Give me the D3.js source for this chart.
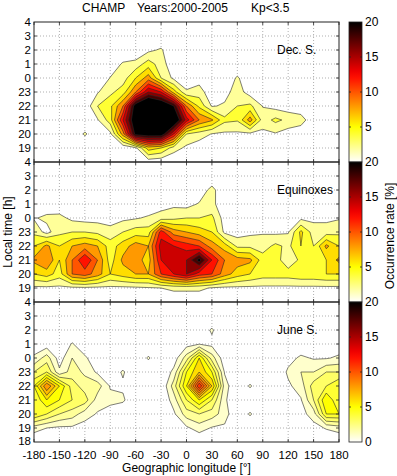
<!DOCTYPE html>
<meta charset="utf-8">
<style>
    body { margin: 0; background: #fff; }
    svg text { font-family: "Liberation Sans", Arial, sans-serif; fill: #000; }
    .grid line { stroke: #7a7a7a; stroke-width: 0.6; stroke-dasharray: 1,2; }
    .band { stroke: #262626; stroke-width: 0.6; stroke-linejoin: round; }
    .frame { fill: none; stroke: #222; stroke-width: 1; }
    .tick { stroke: #222; stroke-width: 0.8; }
</style>
<svg width="397" height="476"></svg>
<script src="https://cdn.jsdelivr.net/npm/d3@7"></script>
<script>

    // grid: longitude every 15 deg, local time every hour (18 .. 4 next day)
    const longitudes = d3.range(-180, 181, 15);
    const localTimes = [18, 19, 20, 21, 22, 23, 0, 1, 2, 3, 4];
    const levelsDec = [2, 4, 6, 8, 10, 12, 14, 16, 18, 20];
    const levelsEqu = [2, 4, 6, 8, 10, 12, 14, 16, 18, 20];
    const levelsJune = [1, 2, 3, 4, 5, 6, 7, 8, 9, 10, 11, 12, 13, 14, 15];
    const xTicks = d3.range(-180, 181, 30);
    const cbTicks = [0, 5, 10, 15, 20];
    const panelNames = ["Dec. S.", "Equinoxes", "June S."];

    // occurrence rate [%], one row per local time, columns = longitudes
    const decS = [
        [0,0,0,0,0,0,0,0,0.5,0.8,0.5,0,0,0,0,0,0,0,0,0,0,0,0,0,0],
        [0,0,0,0,0,0,0,0.3,1.5,7,6,3,1.5,0.8,0.5,0,0,0,0,0,0,0,0,0,0],
        [0,0,0,0,2.3,0.5,1.5,9,21,22,22,14,4,3,1.9,1.6,1.6,1.5,1.5,1.8,1,0,0,0,0],
        [0,0,0,0,0.3,1.8,5,14,23,28,26,24,15,10,8.3,4.5,4.2,9,3,4.5,3.5,3.3,0,0,0],
        [0,0,0,0,0.5,4,5.5,10,22,26,24,20,10,5.5,1.8,2.3,4,4.5,1.9,1.2,0.8,0,0,0,0],
        [0,0,0,0,0,1.8,3.5,5,10,16,14,7,2.3,3,0.5,1.2,3,1,0,0,0,0,0,0,0],
        [0,0,0,0,0,0,2.1,3,6,9,4,1.5,0.5,1,0.3,0.3,2.3,0.3,0,0,0,0,0,0,0],
        [0,0,0,0,0,0,0.5,2.3,2.8,5,3,0.5,0,0,0,0,0,0,0,0,0,0,0,0,0],
        [0,0,0,0,0,0,0,0,0,1.5,2.3,0,0,0,0,0,0,0,0,0,0,0,0,0,0],
        [0,0,0,0,0,0,0,0,0,0,0,0,0,0,0,0,0,0,0,0,0,0,0,0,0],
        [0,0,0,0,0,0,0,0,0,0,0,0,0,0,0,0,0,0,0,0,0,0,0,0,0]
    ];

    const equinox = [
        [0.3,0.3,0.3,0.3,0.3,0.3,0.3,0.3,0.3,0.3,0.3,0.3,0.3,0.3,0.3,0.3,0.3,0.3,0.3,0.3,0.3,0.3,0.3,0.3,0.3],
        [1.5,1.5,1.5,1.5,1.6,1.5,1.5,1.5,1.6,1.8,2,2.5,2.5,2.5,1.8,1.5,1.5,1.5,1.5,1.5,1.5,1.5,1.5,1.5,1.5],
        [6,7,5,10,11,9,6,7,8,8,12,14,16,13,12,9,7,6,5,5,5,5.5,5.5,6,6],
        [8.5,10,6,10,14,10,5,8.5,9,7,14,15,16,21,14,10,9,8.5,5,5,2.5,4.5,5,6,8.5],
        [6,8.5,6,8,9,8,5,7,9,8,15,14,13,12,9,7,3.5,3.5,3,4.5,3.5,6,4,8.5,6],
        [3.5,1.2,3.5,4,4,3.5,2.8,4,5,5,13,9,8,7,6,1.5,1,1.5,1.8,1.5,1.8,6.5,3,3,3.5],
        [1.8,2.5,2.6,1.5,1.2,1.2,1,1.5,1.8,2.3,3,3.5,4,4,4.5,1,0.5,0.5,1,1,1,1.5,1.5,1.5,1.8],
        [0,0.5,0.5,0,0,0,0,0,0,0.5,1,1.5,1.2,2.2,2.6,0.5,0,0,0,0,0,0,0,0,0],
        [0,0,0,0,0,0,0,0,0,0,0,0,0,0.5,2.8,0,0,0,0,0,0,0,0,0,0],
        [0,0,0,0,0,0,0,0,0,0,0,0,0,0,0,0,0,0,0,0,0,0,0,0,0],
        [0,0,0,0,0,0,0,0,0,0,0,0,0,0,0,0,0,0,0,0,0,0,0,0,0]
    ];

    const juneS = [
        [0,0,0,0,0,0,0,0,0,0,0,0,0,0,0,0,0,0,0,0,0,0,0,0,0],
        [1.5,1,0.8,0.8,0.5,0.3,0,0,0,0,0,0.3,0.8,1.5,0.9,0.8,0,0,0,0,0,0.3,0.6,1.1,1.5],
        [5,4,3,2.5,1.5,0.9,0.5,0,0,0,0,0.8,2.5,3,2.5,1.5,0,1.15,0,0,0.3,0.6,1.5,5,5],
        [4,6,5,4,3.5,1.5,1.3,1.2,0,0,0,1.5,4,6,4,1.2,0,0,0,0,0.6,0.9,3,6,4],
        [5,9,6,3.5,2.5,2.5,0.9,0.8,0,0,0,2.5,6,12,7,1.5,0,1.15,0,0,0.8,1.5,3.5,4,5],
        [3,4,1.2,2.5,1.8,0.8,0.3,1.15,0,0,0,1.3,5,7,5,0.9,0,0,0,0,1.2,2,2,3,3],
        [1.2,2.5,0.5,2,1.2,0.2,0,0,0,1.15,0,0.4,2.5,6,2.5,0.3,0,0,0,0,0.6,1.2,0.9,0.9,1.2],
        [0.3,0.4,0,1.1,0.2,0,0,0,0,0,0,0,0.6,0.95,0.7,0,0,0,0,0,0,0.2,0,0,0.3],
        [0,0,0,0,0,0,0,0,0,0,0,0,0,0.3,1.15,0,0,0,0,0,0,0,0,0,0],
        [0,0,0,0,0,0,0,0,0,0,0,0,0,0,0,0,0,0,0,0,0,0,0,0,0],
        [0,0,0,0,0,0,0,0,0,0,0,0,0,0,0,0,0,0,0,0,0,0,0,0,0]
    ];

    const grids = [decS, equinox, juneS];
    const panelLevels = [levelsDec, levelsEqu, levelsJune];

    var svg = d3.select("svg");

    const plotL = 34, plotR = 339, panelH = 140;
    const panelTops = [22, 162, 302];
    const cbL = 349, cbW = 13;
    const tickLen = 3;
    const tickFont = "11.5px";

    var x = d3.scaleLinear().domain([-180, 180]).range([plotL, plotR]);

    // flipped "hot" colormap: white -> yellow -> red -> black
    var color = d3.scaleLinear()
        .domain([0, 5, 12.5, 20])
        .range(["#ffffff", "#ffff00", "#ff0000", "#000000"])
        .clamp(true);

    const nx = longitudes.length, ny = localTimes.length;

    // local time axis runs 18 .. 28 (28 = 4 h next day)
    const hourLabel = function(h) { return String(h % 24); };

    var defs = svg.append("defs");

    var grad = defs.append("linearGradient")
        .attr("id", "cbgrad")
        .attr("x1", 0).attr("x2", 0).attr("y1", 1).attr("y2", 0);
    d3.range(0, 20.01, 1).forEach(function(v) {
        grad.append("stop").attr("offset", v / 20).attr("stop-color", color(v));
    });

    grids.forEach(function(grid, p) {
        const top = panelTops[p];
        var y = d3.scaleLinear().domain([18, 28]).range([top + panelH, top]);

        defs.append("clipPath").attr("id", "clip" + p)
            .append("rect")
            .attr("x", plotL).attr("y", top)
            .attr("width", plotR - plotL).attr("height", panelH);

        var g = svg.append("g");

        // dotted grid
        var grid_g = g.append("g").attr("class", "grid");
        grid_g.selectAll(".vx").data(xTicks.slice(1, -1)).enter()
            .append("line")
            .attr("x1", d => x(d)).attr("x2", d => x(d))
            .attr("y1", top).attr("y2", top + panelH);
        grid_g.selectAll(".hy").data(d3.range(19, 28)).enter()
            .append("line")
            .attr("x1", plotL).attr("x2", plotR)
            .attr("y1", d => y(d)).attr("y2", d => y(d));

        // filled contours
        var values = [];
        for (var j = 0; j < ny; j++)
            for (var i = 0; i < nx; i++) values.push(grid[j][i]);

        var contours = d3.contours().size([nx, ny]).thresholds(panelLevels[p]);

        var proj = d3.geoTransform({
            point: function(cx, cy) {
                this.stream.point(x(-180 + 15 * (cx - 0.5)), y(18 + (cy - 0.5)));
            }
        });
        var path = d3.geoPath(proj);

        g.append("g")
            .attr("clip-path", "url(#clip" + p + ")")
            .selectAll("path")
            .data(contours(values))
            .enter().append("path")
            .attr("class", "band")
            .attr("fill", d => color(d.value))
            .attr("d", path);

        // frame and ticks
        g.append("rect").attr("class", "frame")
            .attr("x", plotL).attr("y", top)
            .attr("width", plotR - plotL).attr("height", panelH);

        var ticks = g.append("g");
        xTicks.forEach(function(t) {
            ticks.append("line").attr("class", "tick")
                .attr("x1", x(t)).attr("x2", x(t)).attr("y1", top).attr("y2", top + tickLen);
            ticks.append("line").attr("class", "tick")
                .attr("x1", x(t)).attr("x2", x(t)).attr("y1", top + panelH).attr("y2", top + panelH - tickLen);
        });
        d3.range(19, 28).forEach(function(t) {
            ticks.append("line").attr("class", "tick")
                .attr("x1", plotL).attr("x2", plotL + tickLen).attr("y1", y(t)).attr("y2", y(t));
            ticks.append("line").attr("class", "tick")
                .attr("x1", plotR).attr("x2", plotR - tickLen).attr("y1", y(t)).attr("y2", y(t));
        });

        // y tick labels
        const yLabs = p === 2 ? d3.range(18, 29) : d3.range(19, 29);
        g.selectAll(".ylab").data(yLabs).enter()
            .append("text")
            .attr("x", plotL - 3)
            .attr("y", d => y(d) - (d === 18 ? 1 : 0))
            .attr("dy", "0.33em")
            .attr("text-anchor", "end")
            .style("font-size", tickFont)
            .text(hourLabel);

        // panel name
        g.append("text")
            .attr("x", 277).attr("y", top + 32)
            .style("font-size", "12px")
            .text(panelNames[p]);

        // colorbar (the 0 of the upper bars sits under the 20 of the next one)
        var cb = d3.scaleLinear().domain([0, 20]).range([top + panelH, top]);
        g.append("rect")
            .attr("x", cbL).attr("y", top)
            .attr("width", cbW).attr("height", panelH)
            .attr("fill", "url(#cbgrad)")
            .attr("stroke", "#222").attr("stroke-width", 0.8);
        cbTicks.slice(1, -1).forEach(function(t) {
            g.append("line").attr("class", "tick")
                .attr("x1", cbL).attr("x2", cbL + 2).attr("y1", cb(t)).attr("y2", cb(t));
            g.append("line").attr("class", "tick")
                .attr("x1", cbL + cbW).attr("x2", cbL + cbW - 2).attr("y1", cb(t)).attr("y2", cb(t));
        });
        const cbLabs = p === 2 ? cbTicks : cbTicks.slice(1);
        g.selectAll(".cblab").data(cbLabs).enter()
            .append("text")
            .attr("x", cbL + cbW + 3)
            .attr("y", d => cb(d))
            .attr("dy", "0.36em")
            .style("font-size", "12px")
            .text(d => d);
    });

    // x tick labels
    svg.selectAll(".xlab").data(xTicks).enter()
        .append("text")
        .attr("x", d => x(d))
        .attr("y", 458.5)
        .attr("text-anchor", "middle")
        .style("font-size", tickFont)
        .text(d => d);

    svg.append("text")
        .attr("x", (plotL + plotR) / 2).attr("y", 472)
        .attr("text-anchor", "middle")
        .style("font-size", "12px")
        .text("Geographic longitude [°]");

    svg.append("text")
        .attr("transform", "translate(12,232) rotate(-90)")
        .attr("text-anchor", "middle")
        .style("font-size", "12px")
        .text("Local time [h]");

    svg.append("text")
        .attr("transform", "translate(394,236) rotate(-90)")
        .attr("text-anchor", "middle")
        .style("font-size", "12px")
        .text("Occurrence rate [%]");

    // title
    const title = [["CHAMP", 82], ["Years:2000-2005", 137], ["Kp<3.5", 251]];
    svg.selectAll(".title").data(title).enter()
        .append("text")
        .attr("x", d => d[1]).attr("y", 12)
        .style("font-size", "12px")
        .text(d => d[0]);

</script>
